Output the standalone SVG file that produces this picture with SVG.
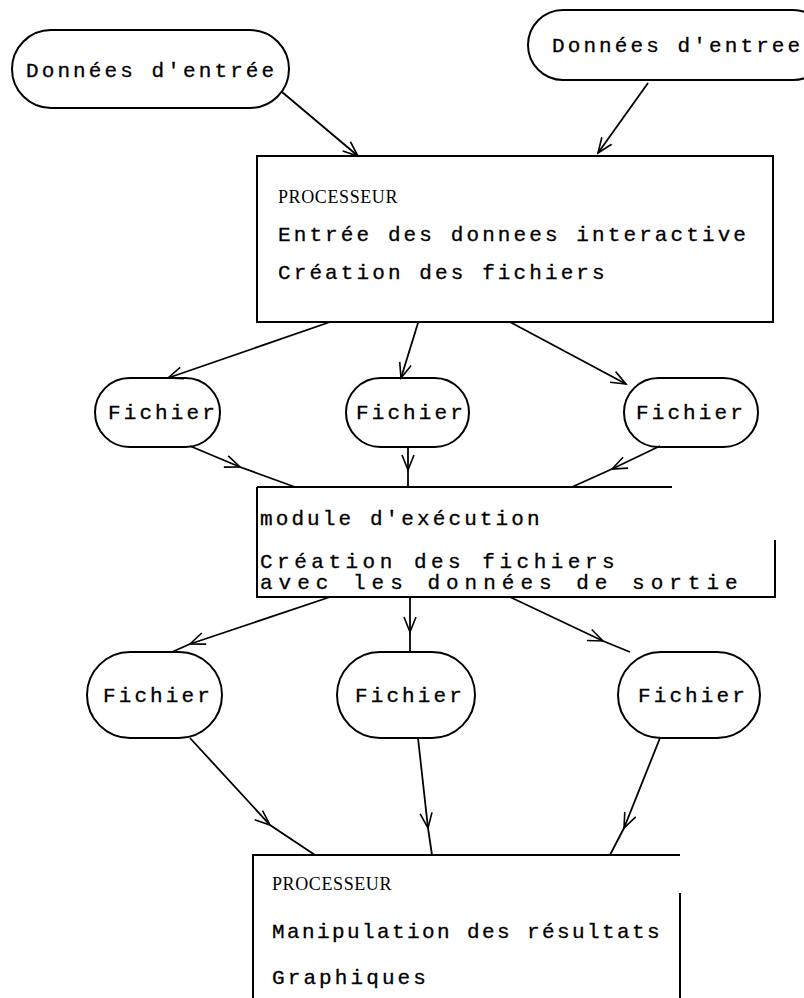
<svg xmlns="http://www.w3.org/2000/svg" width="804" height="998" viewBox="0 0 804 998">
<style>
  .n{fill:#fff;stroke:#000;stroke-width:2}
  .b{fill:none;stroke:#000;stroke-width:2}
  .t{font-family:"Liberation Mono","DejaVu Sans Mono",monospace;font-size:21px;letter-spacing:3.1px;fill:#000;stroke:#000;stroke-width:0.3}
  .h{font-family:"Liberation Serif","DejaVu Serif",serif;font-size:18px;letter-spacing:0.6px;fill:#000}
  .c{fill:none;stroke:#000;stroke-width:1.8}
</style>
<defs>
  <marker id="ah" markerWidth="18" markerHeight="14" refX="16" refY="7" orient="auto" markerUnits="userSpaceOnUse">
    <path d="M1,1 L16,7 L1,13" fill="none" stroke="#000" stroke-width="1.6"/>
  </marker>
</defs>
<rect width="804" height="998" fill="#fff"/>

<g id="in1">
  <rect class="n" x="12" y="30" width="277" height="78" rx="39"/>
  <text class="t" x="26" y="77">Données d'entrée</text>
</g>
<g id="in2">
  <rect class="n" x="528" y="10" width="300" height="70" rx="35"/>
  <text class="t" x="552" y="52">Données d'entree</text>
</g>

<g id="proc1">
  <path class="b" d="M257,156 H773 V322 H257 Z"/>
  <text class="h" x="278" y="203">PROCESSEUR</text>
  <text class="t" x="278" y="241">Entrée des donnees interactive</text>
  <text class="t" x="278" y="279">Création des fichiers</text>
</g>

<g id="f1"><rect class="n" x="95" y="378" width="125" height="69" rx="34.5"/><text class="t" x="108" y="419">Fichier</text></g>
<g id="f2"><rect class="n" x="346" y="378" width="123" height="69" rx="34.5"/><text class="t" x="356" y="419">Fichier</text></g>
<g id="f3"><rect class="n" x="624" y="378" width="134" height="69" rx="34.5"/><text class="t" x="636" y="419">Fichier</text></g>

<g id="exec">
  <path class="b" d="M257,487 H672 M775,540 V597 H257 V487"/>
  <text class="t" x="260" y="525">module d'exécution</text>
  <text class="t" x="260" y="568" style="letter-spacing:4.5px">Création des fichiers</text>
  <text class="t" x="260" y="589" style="letter-spacing:6px">avec les données de sortie</text>
</g>

<g id="f4"><rect class="n" x="87" y="652" width="135" height="86" rx="43"/><text class="t" x="103" y="702">Fichier</text></g>
<g id="f5"><rect class="n" x="337" y="652" width="138" height="86" rx="43"/><text class="t" x="355" y="702">Fichier</text></g>
<g id="f6"><rect class="n" x="618" y="652" width="142" height="86" rx="43"/><text class="t" x="638" y="702">Fichier</text></g>

<g id="proc2">
  <path class="b" d="M253,998 V855 H680 M680,893 V998"/>
  <text class="h" x="272" y="890">PROCESSEUR</text>
  <text class="t" x="272" y="938" style="letter-spacing:2.4px">Manipulation des résultats</text>
  <text class="t" x="272" y="984">Graphiques</text>
</g>

<g id="connectors">
  <path class="c" d="M282,92 L358,156" marker-end="url(#ah)"/>
  <path class="c" d="M648,83 L598,153" marker-end="url(#ah)"/>
  <path class="c" d="M330,322 L168,378" marker-end="url(#ah)"/>
  <path class="c" d="M418,323 L401,378" marker-end="url(#ah)"/>
  <path class="c" d="M510,322 L626,384" marker-end="url(#ah)"/>
  <path class="c" d="M190,446 L240,467 L295,487" marker-mid="url(#ah)"/>
  <path class="c" d="M408,447 L408,470 L408,487" marker-mid="url(#ah)"/>
  <path class="c" d="M660,446 L612,469 L572,487" marker-mid="url(#ah)"/>
  <path class="c" d="M330,597 L190,644 L172,652" marker-mid="url(#ah)"/>
  <path class="c" d="M410,597 L410,632 L410,652" marker-mid="url(#ah)"/>
  <path class="c" d="M510,597 L603,641 L630,652" marker-mid="url(#ah)"/>
  <path class="c" d="M190,738 L270,825 L315,855" marker-mid="url(#ah)"/>
  <path class="c" d="M418,738 L428,828 L432,855" marker-mid="url(#ah)"/>
  <path class="c" d="M660,738 L624,828 L610,855" marker-mid="url(#ah)"/>
</g>
</svg>
